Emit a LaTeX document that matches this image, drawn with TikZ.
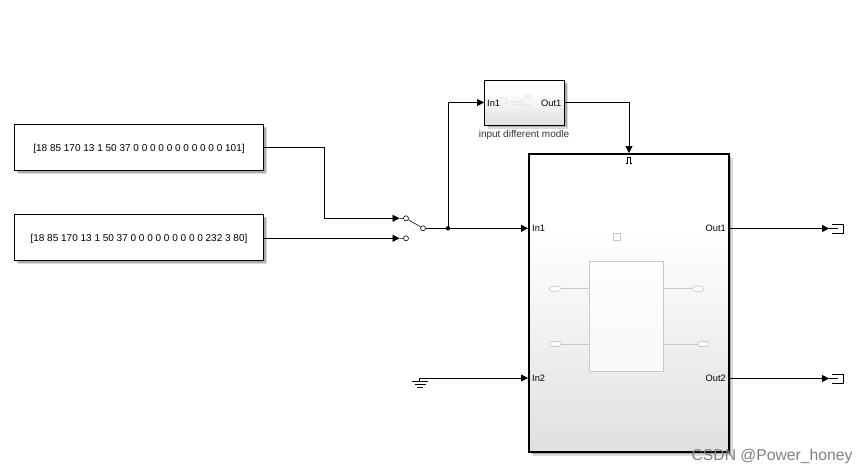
\documentclass[tikz,border=0pt]{standalone}
\usepackage{fontspec}
\setmainfont{Liberation Sans}
\usetikzlibrary{arrows.meta,shadows}
\definecolor{blockgrey}{HTML}{E0E0E0}
\definecolor{ghostgrey}{HTML}{C8C8C8}
\definecolor{faintgrey}{HTML}{E6E6E6}
\pgfdeclareverticalshading{blockfade}{100bp}{color(0bp)=(blockgrey); color(25bp)=(blockgrey); color(62bp)=(white); color(100bp)=(white)}
\tikzset{
  softshadow/.style={
    general shadow={shadow xshift=3.6pt, shadow yshift=-3.6pt, opacity=0.14, fill=black},
    general shadow={shadow xshift=2.4pt, shadow yshift=-2.4pt, opacity=0.22, fill=black}},
  basebox/.style={draw=black, line width=0.9pt, inner sep=0pt, softshadow},
  block/.style={basebox, shading=blockfade},
  constblock/.style={basebox, fill=white, minimum width=249.5pt, minimum height=45.5pt, font=\fontsize{10}{10}\selectfont},
  portlabel/.style={font=\fontsize{9.3}{9.3}\selectfont, inner sep=0pt},
  wire/.style={draw=black, line width=0.8pt, -{Triangle[length=7pt,width=7pt]}},
  plainwire/.style={draw=black, line width=0.8pt},
  swcontact/.style={circle, draw=black, line width=0.6pt, fill=white, minimum size=5pt, inner sep=0pt},
  ghost/.style={draw=ghostgrey, line width=0.7pt},
  faint/.style={draw=faintgrey, line width=0.7pt},
  pill/.style={ghost, fill=white, rounded corners=2.4pt, minimum width=11pt, minimum height=5pt, inner sep=0pt},
}
\begin{document}
\begin{tikzpicture}[x=1pt,y=-1pt]
\useasboundingbox (0,0) rectangle (867,474);
% source blocks
\node[constblock, text depth=0pt] (data1) at (139,147.5) {\raisebox{-1.5pt}{[18 85 170 13 1 50 37 0 0 0 0 0 0 0 0 0 0 0 101]}};
\node[constblock, text depth=0pt] (data2) at (139,237.5) {\raisebox{-1.5pt}{[18 85 170 13 1 50 37 0 0 0 0 0 0 0 0 0 232 3 80]}};
% switch
\node[swcontact] (swa) at (406,218.3) {};
\node[swcontact] (swb) at (406,238.3) {};
\node[swcontact] (swo) at (423,228.3) {};
\coordinate (tipa) at (399.5,218.3);
\coordinate (tipb) at (399.5,238.3);
\draw[plainwire, line width=0.6pt] (swa) -- (swo) (tipa) -- (swa) (tipb) -- (swb);
\coordinate (jct) at (448,228.3);
\fill (jct) circle (2.2pt);
% blocks
\node[block, minimum width=80pt, minimum height=45pt] (inputmode) at (524.5,102.5) {};
\node[font=\fontsize{10}{10}\selectfont, inner sep=0pt, text=black!80] (inputlabel) at (524,134.5) {input different modle};
\node[block, line width=2pt, minimum width=200pt, minimum height=298pt] (main) at (629,303) {};
% thumbnail of the small block
\node[faint, minimum size=6pt, inner sep=0pt] (thumba) at (503.5,100.5) {};
\node[faint, minimum width=8pt, minimum height=3pt, inner sep=0pt] (thumbb) at (517,103) {};
\node[faint, minimum size=3pt, inner sep=0pt] (thumbc) at (528,96) {};
\node[faint, minimum size=3pt, inner sep=0pt] (thumbd) at (528,106) {};
\draw[faint] (thumba) -- (thumbb) -- (thumbc);
\draw[faint] (thumbb) -- (thumbd);
% inside of the main block
\node[ghost, fill=white, minimum size=7.5pt, inner sep=0pt] (chip) at (617,237) {};
\node[ghost, fill=white, fill opacity=0.7, minimum width=74.5pt, minimum height=110pt, inner sep=0pt] (core) at (626.2,316) {};
\node[pill] (pilla) at (555,288.7) {};
\node[pill] (pillb) at (555,344) {};
\node[pill] (pillc) at (698,288.7) {};
\node[pill] (pilld) at (703.5,344) {};
\draw[ghost] (pilla) -- (pilla-|core.west);
\draw[ghost] (pillb) -- (pillb-|core.west);
\draw[ghost] (pillc) -- (pillc-|core.east);
\draw[ghost] (pilld) -- (pilld-|core.east);
% port labels
\node[portlabel, anchor=west] (inA) at (487,103) {In1};
\node[portlabel, anchor=east] (outA) at (561.5,103) {Out1};
\node[portlabel, anchor=west] (inB) at (532,228) {In1};
\node[portlabel, anchor=west] (inC) at (532,378) {In2};
\node[portlabel, anchor=east] (outB) at (726,228) {Out1};
\node[portlabel, anchor=east] (outC) at (726,378) {Out2};
% enable pulse
\draw[black, line width=0.6pt] (626,163) -- (627.7,163) -- (627.7,157) -- (630.5,157) -- (630.5,163) -- (632,163);
% ground and terminators
\coordinate (gnd) at (419,378);
\draw[black, line width=0.6pt] (412,381) -- (428,381) (414.5,384) -- (425.5,384) (417,387) -- (423,387) (gnd) -- (419,381);
\coordinate (termA) at (829,228.5);
\coordinate (termB) at (829,378.5);
\foreach \t in {termA,termB}
  \draw[black, line width=0.6pt] ([shift={(3,-4.5)}]\t) -- ++(11,0) -- ++(0,9) -- ++(-11,0) (\t) -- ++(9,0);
% connectors
\draw[wire] (data1.east) -- (324,147.5) -- (324,218.3) -- (tipa);
\draw[wire] (data2.east|-tipb) -- (tipb);
\draw[plainwire] (swo.east) -- (jct);
\draw[wire] (jct) -- (main.west|-jct);
\draw[wire] (jct) -- (448,102.5) -- (inputmode.west);
\draw[wire] (inputmode.east) -- (629,102.5) -- (main.north);
\draw[wire] (gnd) -- (main.west|-gnd);
\draw[wire] (main.east|-termA) -- (termA);
\draw[wire] (main.east|-termB) -- (termB);
% watermark
\node[font=\fontsize{15.7}{15.7}\selectfont, text=black!50, inner sep=0pt] (mark) at (772,456) {CSDN @Power\_honey};
\end{tikzpicture}
\end{document}
